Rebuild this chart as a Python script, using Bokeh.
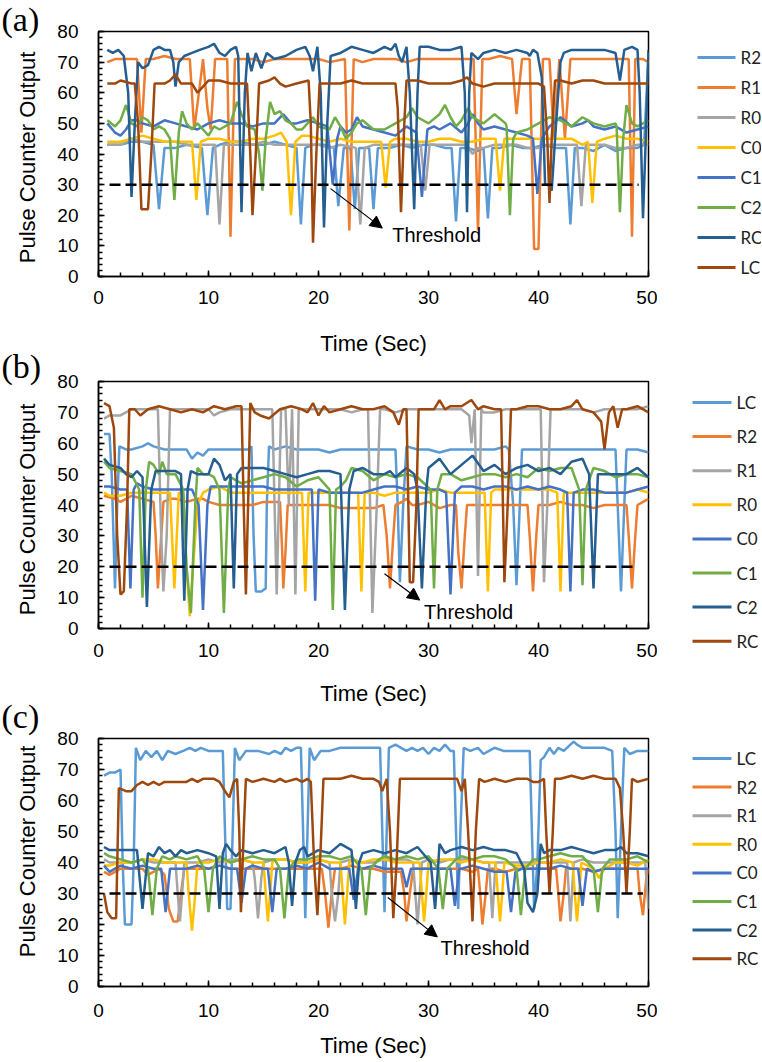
import math
from bokeh.plotting import figure
from bokeh.models import Range1d, SingleIntervalTicker, Label, Arrow, NormalHead
from bokeh.layouts import column, row
from bokeh.embed import file_html
from bokeh.resources import INLINE
from bokeh.core.properties import value

# ---------------- Panel (a) data: (time, pulse count) ----------------
a_R2 = [(0.8,43),(2,43),(3,44),(4,44),(5.0,43),(5.5,22),(6.0,42),(7,42),(8,43),(9.4,42),(9.9,20),(10.4,42),
        (11,43),(12,44),(13,44),(14,43),(15,43),(16,44),(17,43),(18.0,42),(18.4,17),(18.8,42),(19.5,43),(20.5,43),
        (21.4,42),(21.8,23),(22.3,42),(22.9,42),(23.3,22),(23.7,42),(24.6,42),(25.0,22),(25.4,42),(26.5,42),
        (27.5,43),(28.5,42),(29.5,43),(30.5,43),(31.5,42),(32.1,42),(32.5,18),(32.9,42),(33.5,42),(34.5,41),
        (35.0,42),(35.4,19),(35.8,42),(36.5,42),(37.5,43),(38.5,42),(39.5,42),(40.5,43),(41.5,42),(42.5,42),
        (42.9,17),(43.3,42),(44,42),(45,41),(46,43),(47,41),(48,42),(49,42),(49.6,43),(50,73)]
a_R1 = [(0.8,70),(1.5,71),(2.5,71),(3.5,71),(3.9,47),(4.3,71),(5,71),(6,72),(7,71),(8.3,71),(8.7,48),(9.2,62),
        (9.5,71),(9.9,55),(10.2,48),(10.6,71),(11.0,71),(11.7,71),(12.0,13),(12.4,71),(13,71),(14,71),(15,70),
        (16,71),(17,71),(18,71),(19,71),(20,71),(21,70),(22.4,71),(22.8,15),(23.2,71),(24,70),(25,71),(26,71),
        (27,71),(28,70),(29,71),(30,71),(31,71),(32,71),(33,71),(34.1,71),(34.5,15),(34.9,71),(35.5,71),(36.5,72),
        (37.6,71),(38.0,53),(38.5,71),(39.2,71),(39.6,9),(40.0,9),(40.4,71),(41.0,71),(41.4,45),(41.9,71),
        (42.4,45),(42.9,71),(43.3,71),(44,71),(45,71),(46,71),(47,71),(48.2,71),(48.5,13),(48.8,71),(49.5,71),(50,70)]
a_R0 = [(0.8,43),(2,43),(3,45),(4,44),(5,44),(6,44),(7,44),(8,43),(9,43),(10,43),(10.6,43),(11.0,17),(11.4,43),
        (12,43),(13,43),(14,43),(15,44),(16,43),(17,43),(18,43),(19,43),(20,43),(21,42),(22,43),(23.4,42),
        (23.8,17),(24.2,42),(25,43),(26,43),(27,43),(28,43),(29.3,43),(29.7,28),(30.1,43),(31,43),(32,43),
        (33,43),(33.5,43),(34,40),(34.5,42),(35,42),(36,43),(37,43),(38,43),(39,42),(40,42),(41,43),(42,43),
        (43.5,43),(43.9,23),(44.3,43),(45,43),(46,43),(47,42),(48,42),(49,43),(50,43)]
a_C0 = [(0.8,44),(2,44),(3,45),(4,46),(5,45),(6,44),(7,44),(8,44),(8.5,44),(8.9,25),(9.3,44),(10,45),(11,45),
        (12,44),(13,44),(14,45),(15,45),(16,46),(16.6,47),(17.1,44),(17.5,20),(17.9,44),(18.5,46),(19,46),
        (20,45),(21,44),(22,45),(23,44),(24,44),(25,44),(25.7,44),(26.1,29),(26.5,44),(27,45),(28,45),(29,44),
        (30,44),(31,45),(32,45),(33,44),(34,44),(35,45),(36.1,45),(36.5,28),(36.9,45),(38,45),(39,45),(40,45),
        (41,45),(42,45),(43,45),(44,43),(44.5,44),(44.9,24),(45.3,44),(46,45),(47,46),(48,45),(49,45),(50,44)]
a_C1 = [(0.8,50),(1.5,47),(2,46),(2.5,48),(3,51),(3.5,51),(4,50),(5,49),(6,51),(7,50),(8,49),(9,48),(10,50),
        (11,51),(12,50),(13,50),(14,49),(15,50),(16,50),(16.8,53),(17.5,50),(18,50),(19,51),(20,50),(20.8,49),
        (21.3,30),(21.7,45),(22,49),(22.5,47),(23,48),(23.5,52),(24,49),(25,48),(26,47),(27,46),(28,49),
        (28.9,47),(29.4,26),(29.9,48),(30.5,49),(31,48),(32,50),(33,47),(33.6,50),(34,53),(34.5,50),(35,48),
        (36,49),(37,48),(38,47),(39,46),(39.5,45),(39.9,27),(40.3,45),(41,49),(42,52),(43,49),(44,50),
        (44.5,51),(45,49),(46,48),(47,49),(48,47),(49,48),(50,49)]
a_C2 = [(0.8,51),(1.5,49),(2,51),(2.5,56),(3,50),(3.5,49),(4,52),(4.5,51),(5,48),(5.5,49),(6.0,48),(6.5,45),
        (6.9,25),(7.3,47),(7.6,54),(8,50),(8.5,48),(9,50),(9.5,48),(10,46),(10.5,49),(11,48),(12,50),(12.6,57),
        (13,53),(13.5,49),(14.2,48),(14.6,40),(14.9,28),(15.2,45),(15.6,57),(16,53),(16.5,54),(17,51),
        (17.5,50),(18,48),(18.5,48),(19,50),(19.5,52),(20,49),(21,48),(21.5,52),(22,49),(22.5,45),(23,47),
        (23.5,50),(24,51),(25,48),(26,48),(27,50),(28,52),(28.5,55),(29,52),(30,50),(31,53),(31.5,56),(32,52),
        (32.5,49),(33,51),(33.6,55),(34,52),(35,50),(36,53),(37,50),(37.1,49),(37.4,20),(37.7,45),(38,47),
        (39,48),(40,50),(41,52),(42,51),(43,49),(44,52),(45,50),(46,49),(47,50),(47.1,49),(47.4,21),(47.7,45),
        (48,56),(48.5,50),(49,49),(50,51)]
a_RC = [(0.8,74),(1.3,73),(1.8,74),(2.3,72),(2.7,60),(3.0,26),(3.3,50),(3.6,70),(4.0,68),(4.5,69),(5.0,74),
        (5.5,75),(6.0,74),(6.5,74),(6.8,70),(7.0,62),(7.3,70),(7.8,72),(8.5,73),(9.2,74),(10,75),(10.5,76),
        (11,73),(11.5,72),(12,74),(12.5,75),(12.7,72),(13.0,21),(13.3,60),(13.55,73),(13.9,67),(14.3,73),
        (14.8,68),(15.3,73),(16,71),(17,72),(18,74),(18.8,75),(19.2,72),(19.5,67),(19.9,75),(20.2,60),
        (20.5,16),(20.8,50),(21.1,72),(22,73),(23,75),(24,74),(25,73),(25.5,74),(26,75),(26.6,74),(27,76),
        (27.3,72),(27.6,70),(28,75),(28.3,60),(28.7,22),(29.0,60),(29.2,75),(30,75),(31,74),(32,74),(33.0,75),
        (33.3,60),(33.5,21),(33.7,60),(33.9,73),(34.5,71),(35,73),(36,74),(37,73),(38,74),(39,73),(39.2,72),
        (39.5,74),(39.9,73),(40.3,65),(40.6,30),(40.9,30),(41.2,28),(41.6,50),(42.0,70),(42.3,73),(43,74),
        (44,74),(45,74),(46,74),(47,73),(47.4,64),(47.8,74),(48.5,75),(49.0,74),(49.2,60),(49.5,19),(49.8,50),
        (50,74)]
a_LC = [(0.8,63),(1.5,63),(2.0,64),(3.0,63),(3.3,63),(3.6,50),(3.9,22),(4.5,22),(4.8,40),(5.1,63),(6,63),
        (6.5,64),(7,66),(7.5,63),(8.5,63),(9,60),(9.5,62),(10,64),(11,64),(12,63),(13.5,63),(13.8,40),(14.0,20),
        (14.3,40),(14.6,63),(15.5,64),(16,65),(16.5,63),(17,62),(18,63),(19.1,64),(19.3,50),(19.5,11),(19.8,40),
        (20.1,63),(21,63),(22,63),(23,64),(24,63),(25,63),(26,63),(27.0,63),(27.2,55),(27.5,21),(27.8,50),
        (28.0,64),(29,64),(30,63),(31,63),(32,63),(33,64),(33.5,65),(34,63),(35,62),(36,63),(37,63),(38,63),
        (39,63),(40.0,63),(40.5,62),(40.8,45),(41.0,24),(41.2,45),(41.5,64),(42,64),(43,63),(44,64),(45,64),
        (46,63),(47,63),(48,63),(49,63),(50,63)]

# ---------------- Panel (b) data ----------------
b_LC = [(0.5,63),(1.0,63),(1.2,50),(1.5,13),(1.7,40),(1.9,59),(2.5,58),(3,58),(4,59),(4.5,60),(5,59),(6,58),
        (7,58),(8,58),(8.5,55),(9,57),(9.5,56),(10,58),(11,58),(12,58),(13,58),(13.6,58),(13.9,59),(14.1,30),
        (14.3,12),(14.8,12),(15.2,13),(15.3,40),(15.5,59),(16,58),(17,59),(18,58),(19,58),(20,58),(21,57),
        (22,58),(23,58),(24,58),(25,58),(26,58),(27.0,58),(27.2,40),(27.4,15),(27.7,40),(28.0,59),(29,58),
        (30,58),(31,57),(32,58),(33,58),(34,58),(35,58),(36,58),(37.0,59),(37.3,58),(37.7,40),(38.0,14),
        (38.3,40),(38.5,58),(39,58),(40,58),(41,58),(42,58),(43,58),(44,58),(45,58),(46,58),(47.0,58),
        (47.2,40),(47.5,12),(47.8,40),(48.0,58),(49,58),(50,57)]
b_R2 = [(0.5,43),(1.5,42),(2,41),(2.5,42),(3,43),(4,42),(5.0,41),(5.2,30),(5.4,13),(5.7,30),(5.9,41),(6.5,42),
        (7,42),(8,41),(9,42),(9.5,42),(10,41),(11,40),(12,40),(13,40),(14,40),(15,41),(16,41),(16.5,41),
        (16.7,25),(16.8,13),(17.0,25),(17.2,40),(18,40),(19,40),(20,40),(21,40),(22,39),(23,39),(24,39),
        (25,39),(25.9,40),(26.2,30),(26.5,13),(26.8,30),(27.0,40),(27.6,41),(28,42),(28.5,40),(29,40),(30,41),
        (31,39),(32,40),(32.5,40),(32.7,25),(33.0,13),(33.3,30),(33.5,40),(34,40),(35,40),(36,40),(37,40),
        (38,40),(39.0,40),(39.2,30),(39.5,12),(39.8,30),(40.0,40),(41,40),(42,41),(43,40),(44,40),(45,39),
        (46,40),(47,40),(48.0,40),(48.2,30),(48.5,13),(48.8,30),(49.0,40),(49.5,41),(50,42)]
b_R1 = [(0.5,68),(1,69),(2,69),(3,71),(4,71),(5,71),(5.4,71),(5.7,30),(5.9,12),(6.2,30),(6.5,71),(7,71),(8,71),
        (9,71),(10,71),(10.5,69),(11,70),(12,71),(13,71),(14,71),(15,71),(15.8,71),(16.2,11),(16.6,71),
        (17.0,71),(17.3,40),(17.6,71),(17.9,11),(18.2,71),(19,71),(20,71),(21,71),(22,71),(23,70),(24,71),
        (24.5,71),(24.9,5),(25.3,40),(25.6,71),(26,71),(27,70),(28,71),(29,71),(30,71),(31,71),(32,71),(33,71),
        (33.7,69),(33.9,60),(34.2,71),(34.5,17),(34.8,71),(35,70),(36,70),(37,71),(38,71),(39,71),(40.2,71),
        (40.5,15),(40.8,40),(41.1,71),(42,71),(43,71),(44,71),(45,70),(46,71),(47,71),(48,71),(49,71),(50,72)]
b_R0 = [(0.5,44),(1,43),(2,43),(3,44),(4,44),(5,44),(6,44),(6.5,44),(6.9,13),(7.3,44),(7.7,44),(8.0,20),
        (8.3,4),(8.6,20),(9.0,40),(9.5,44),(10,45),(11,46),(12,44),(13,44),(14,44),(15,44),(16,44),(17,44),
        (18,44),(18.5,44),(18.8,12),(19.1,44),(20,44),(21,44),(22,44),(23,44),(23.6,44),(23.9,12),(24.2,44),
        (25,44),(26,43),(27,44),(28,44),(29,44),(30,44),(31,45),(32,44),(33,44),(34,44),(35.1,44),(35.4,12),
        (35.7,44),(36,45),(37,45),(38,45),(39,45),(40,45),(41,45),(41.7,44),(42.0,12),(42.3,44),(43,44),
        (44,44),(45,44),(46,44),(47,44),(48,44),(49,45),(50,44)]
b_C0 = [(0.5,46),(1,46),(2,45),(2.6,45),(2.9,13),(3.2,45),(3.5,47),(4,46),(5,45),(6,45),(7,45),(8,45),(8.5,45),
        (9.1,40),(9.5,6),(9.9,40),(10.2,46),(11,46),(12,46),(13,46),(14,46),(15,46),(16,45),(17,45),(18,45),
        (19,45),(19.4,45),(19.7,9),(20.0,45),(21,44),(22,44),(23,44),(24,44),(25,45),(26,46),(27,46),(28,45),
        (29,46),(30,45),(31,45),(31.6,44),(32.0,11),(32.4,44),(33,46),(34,46),(35,45),(36,46),(37,46),(38,45),
        (39,46),(40,45),(41,46),(42,45),(42.6,44),(42.9,12),(43.2,44),(44,45),(45,45),(46,44),(47,44),(48,44),
        (49,45),(50,46)]
b_C1 = [(0.5,54),(1,52),(2,51),(3,50),(3.7,45),(4.0,10),(4.3,45),(4.6,54),(5,53),(5.5,50),(5.8,54),(6.2,50),
        (7,50),(7.7,45),(8.0,20),(8.4,5),(8.8,40),(9,52),(9.5,50),(10,50),(10.5,49),(11.0,45),(11.4,5),
        (11.8,45),(12,49),(12.5,48),(13,47),(14,48),(15,49),(16,50),(17,49),(18,46),(19,48),(20,49),(21.0,45),
        (21.3,6),(21.6,45),(22,46),(22.5,48),(23,52),(24,51),(25,48),(26,50),(27,49),(28,50),(29,49),(30.2,45),
        (30.5,13),(30.8,45),(31.2,50),(32,50),(33,48),(34,49),(35,50),(36,50),(37,49),(38,50),(39,49),(40,52),
        (41,51),(42,52),(43,52),(43.7,45),(44.0,14),(44.3,45),(45,52),(46,51),(47,49),(48,50),(49,50),(50,49)]
b_C2 = [(0.5,55),(1,53),(2,52),(2.5,50),(3,49),(3.5,51),(4.0,49),(4.4,7),(4.8,45),(5.2,51),(6,51),(7,51),
        (7.5,50),(7.8,9),(8.1,45),(8.4,51),(9,50),(10,50),(10.5,55),(11,53),(11.5,48),(12.0,50),(12.3,13),
        (12.6,50),(13,52),(14,52),(15,52),(16,51),(17,50),(18,49),(19,50),(20,51),(21,51),(22.0,50),(22.4,6),
        (22.8,45),(23.2,51),(24,52),(25,50),(26,50),(26.5,51),(27,49),(28,52),(28.7,50),(29.0,45),(29.4,13),
        (29.8,45),(30,52),(31,55),(32,50),(33,53),(34,56),(35,51),(36,53),(37,50),(38,52),(39,53),(40,51),
        (41,52),(42,50),(43,54),(44,55),(44.6,50),(45.0,13),(45.4,50),(46,50),(47,50),(48,50),(49,52),(50,49)]
b_RC = [(0.5,73),(1.0,72),(1.4,65),(1.7,30),(2.0,11),(2.3,12),(2.6,40),(2.8,71),(3.3,71),(3.8,69),(4.5,71),
        (5.5,72),(6.5,71),(7.5,70),(8.5,71),(9.5,70),(10.5,72),(11.5,71),(12.5,72),(13.0,72),(13.2,40),
        (13.4,11),(13.6,40),(13.8,73),(14.2,70),(14.7,69),(15.5,68),(16.5,71),(17.5,72),(18.5,71),(19,70),
        (19.5,73),(20,69),(20.5,72),(21,70),(22,71),(23,72),(24,71),(25,71),(26,72),(26.8,70),(27.3,66),
        (27.7,71),(28.0,71),(28.3,15),(28.6,15),(28.9,40),(29.1,71),(30,71),(30.5,71),(31,74),(31.5,71),
        (32,72),(33,72),(33.9,74),(34.5,71),(35,72),(36,71),(36.6,71),(36.9,15),(37.2,40),(37.5,71),(38,71),
        (39,72),(40,72),(41,71),(42,71),(43,72),(43.5,74),(44,71),(45,70),(45.7,67),(46.0,58),(46.4,70),
        (46.8,72),(47.2,65),(47.6,71),(48,71),(49,72),(50,70)]

# ---------------- Panel (c) data ----------------
c_LC = [(0.5,68),(1,69),(1.5,69),(2.0,70),(2.2,40),(2.4,20),(3.0,20),(3.2,40),(3.4,77),(3.8,73),(4.3,76),
        (4.8,74),(5.3,76),(5.8,73),(6.3,76),(7,75),(7.7,76),(8.3,77),(8.8,76),(9.3,77),(10,76),(11.3,76),
        (11.5,50),(11.7,25),(12.0,25),(12.2,50),(12.4,77),(12.8,73),(13.4,76),(14.5,76),(15.5,75),(16,76),
        (16.6,75),(17,77),(17.5,76),(18.0,77),(18.4,77),(18.6,50),(18.8,22),(19.0,50),(19.2,77),(19.6,73),
        (20.2,76),(21,76),(22,77),(23,77),(24,77),(25,77),(25.6,77),(25.8,50),(26.0,24),(26.2,50),(26.4,77),
        (27,78),(27.5,77),(28,76),(28.5,77),(29,76),(29.5,77),(30,75),(30.5,77),(31,76),(31.5,78),(32.0,76),
        (32.3,76),(32.5,50),(32.7,25),(32.9,50),(33.2,77),(33.8,76),(34.5,77),(35,75),(35.5,76),(36,77),
        (36.8,76),(37.5,76),(38.5,76),(39.2,76),(39.4,50),(39.6,25),(39.9,40),(40.2,73),(40.5,74),(41,77),
        (41.4,75),(41.8,77),(42.3,76),(42.9,78),(43.2,79),(43.5,78),(44,77),(45,77),(46,77),(46.7,76),
        (47.0,50),(47.2,22),(47.5,50),(47.8,77),(48.3,75),(49,76),(50,76)]
c_R2 = [(0.5,37),(1,36),(1.5,37),(2,38),(3,38),(3.5,38),(4,38),(4.5,36),(5,37),(5.5,38),(6.0,36),(6.4,25),
        (6.8,21),(7.2,21),(7.5,30),(7.8,38),(8.5,38),(9,38),(10,38),(11,39),(12,38),(13,38),(14,38),(15,38),
        (16,38),(17,38),(18,38),(19,38),(20,38),(20.3,38),(20.6,30),(20.9,19),(21.2,30),(21.5,38),(22,38),
        (23,39),(24,38),(25,38),(26,37),(27,37),(27.5,37),(27.8,30),(28.0,21),(28.3,30),(28.6,38),(29,38),
        (30,38),(31,38),(32,38),(33,38),(34,37),(34.5,38),(34.7,30),(34.9,20),(35.2,30),(35.4,38),(36,38),
        (37,37),(38,38),(39,38),(40,38),(41,38),(41.6,38),(41.8,30),(42.0,21),(42.3,30),(42.5,38),(43,38),
        (44,38),(45,37),(46,38),(47,38),(48,38),(49,38),(49.2,30),(49.5,23),(49.8,35),(50,38)]
c_R1 = [(0.5,41),(1,40),(2,40),(3,40),(4,41),(5,40),(6,40),(7.0,40),(7.2,30),(7.4,21),(7.6,30),(7.8,40),(8,40),
        (9,40),(10,41),(11,40),(12,41),(13,41),(14,40),(14.2,35),(14.5,22),(14.8,35),(15,40),(16,41),(17,41),
        (18,40),(19,40),(20,41),(21.0,40),(21.2,30),(21.5,21),(21.8,30),(22.0,40),(23,41),(24,40),(25,40),
        (26,41),(27,41),(28,41),(28.6,40),(28.8,30),(29.0,20),(29.2,30),(29.4,40),(30,41),(31,40),(32,41),
        (33,41),(34,41),(35,40),(35.5,40),(35.8,22),(36.1,40),(37,40),(38,40),(39,40),(40,40),(41,40),(42,40),
        (42.6,40),(42.9,21),(43.2,40),(44,41),(45,40),(46,40),(47,40),(48,40),(49,40),(49.7,40),(50,25)]
c_R0 = [(0.5,39),(1,39),(2,40),(3,40),(4,41),(5,41),(6,40),(7,40),(8.0,40),(8.2,30),(8.5,18),(8.8,30),(9.0,40),
        (10,40),(11,41),(12,40),(13,41),(14,40),(15.0,40),(15.2,30),(15.4,21),(15.6,30),(15.8,40),(16,41),
        (17,41),(18,40),(19,40),(20,41),(21,40),(22.0,40),(22.2,30),(22.4,20),(22.6,30),(22.8,40),(23,41),
        (24,40),(25,41),(26,41),(27,40),(28,40),(29.2,40),(29.4,30),(29.6,21),(29.8,30),(30.0,40),(31,41),
        (32,41),(33,40),(34,41),(35,40),(36.1,40),(36.3,30),(36.5,21),(36.7,30),(36.9,40),(38,39),(39,39),
        (40,40),(41,40),(42,41),(43.1,40),(43.3,30),(43.5,21),(43.7,30),(43.9,40),(45,38),(45.5,35),(46,38),
        (47,40),(48,40),(49,39),(50,41)]
c_C0 = [(0.5,39),(1,37),(1.5,38),(2,39),(3,38),(4,39),(5,38),(5.7,38),(6.1,24),(6.5,38),(7,38),(8,38),(9,39),
        (10,38),(11,39),(12,38),(12.6,38),(13.0,27),(13.4,38),(14,39),(15,38),(15.4,38),(15.8,24),(16.2,38),
        (17,38),(18,39),(19,38),(20,40),(21,38),(22,38),(22.8,38),(23.2,28),(23.6,38),(24,38),(25,39),(26,38),
        (27,38),(27.6,38),(28,32),(28.4,38),(29,38),(30,38),(31,38),(32.0,38),(32.4,26),(32.8,38),(33,38),
        (34,39),(35,38),(36,37),(37.1,37),(37.5,24),(37.9,37),(38.5,38),(39,38),(40,38),(41,38),(42,39),
        (43,38),(43.6,38),(44.0,26),(44.4,38),(45,37),(46,38),(47,38),(48,38),(49,38),(50,38)]
c_C1 = [(0.5,43),(1,42),(2,41),(3,40),(4,41),(4.5,38),(4.9,23),(5.3,38),(5.8,42),(6.5,41),(7,42),(8,41),
        (9,42),(9.6,38),(10.0,24),(10.4,38),(11,42),(12,40),(13,41),(14,42),(15,41),(16,41),(16.5,38),
        (16.9,22),(17.3,38),(18,41),(19,41),(20,42),(21,42),(22,41),(23,42),(23.9,38),(24.3,23),(24.7,38),
        (25.5,41),(26,42),(27,41),(28,42),(29,41),(30,42),(30.9,38),(31.3,25),(31.7,38),(32.5,41),(33,42),
        (34,41),(35,42),(36,42),(37,41),(38.0,38),(38.4,23),(38.8,38),(39.5,41),(40,41),(41,42),(42,43),
        (43,42),(44,42),(45.0,38),(45.4,24),(45.8,38),(46.5,41),(47,41),(48,41),(49,42),(50,40)]
c_C2 = [(0.5,45),(1,44),(2,44),(3,44),(3.5,44),(4.0,25),(4.5,43),(5,42),(5.5,45),(6,43),(6.5,44),(7,42),
        (7.5,44),(8,43),(9,44),(10,43),(10.7,42),(11.0,25),(11.3,43),(11.6,46),(12,44),(12.5,42),(13,44),
        (14,43),(15,44),(16,43),(17,45),(17.3,40),(17.6,26),(17.9,40),(18.3,44),(18.7,45),(19,42),(20,44),
        (21,43),(22,46),(23,44),(23.1,40),(23.4,25),(23.7,40),(24,43),(25,44),(26,43),(27,44),(28,43),(29,45),
        (30.2,40),(30.6,25),(30.9,40),(31,46),(31.5,43),(32,44),(33,45),(34,44),(35,45),(36,44),(37,44),
        (38,43),(38.7,38),(39.0,27),(39.5,24),(39.9,30),(40.2,46),(40.5,43),(41,44),(42,44),(43,45),(44,44),
        (45,43),(46,44),(47,44),(47.5,45),(48,43),(49,43),(50,42)]
c_RC = [(0.5,30),(0.8,24),(1.2,22),(1.6,22),(1.85,64),(2.5,63),(3.0,63),(3.5,65),(4.0,66),(4.5,65),(5.0,66),
        (5.5,65),(6.0,66),(7,66),(8,66),(8.5,67),(9,66),(9.5,67),(10.5,67),(11.0,66),(11.5,63),(11.9,61),
        (12.3,66),(12.6,67),(12.8,50),(12.95,24),(13.2,50),(13.4,67),(14,66),(15,67),(16,66),(16.5,67),
        (17,66),(18,67),(18.5,66),(19.0,67),(19.3,66),(19.6,40),(19.9,23),(20.2,45),(20.45,67),(21,67),
        (22,67),(23,68),(24,67),(25,67),(25.5,66),(25.8,63),(26.2,67),(26.5,50),(26.8,22),(27.1,40),(27.4,67),
        (28,67),(29,67),(30,67),(31,67),(32,67),(32.6,67),(33.0,63),(33.3,67),(33.6,50),(34.0,21),(34.3,50),
        (34.6,67),(35.1,66),(36,67),(37,66),(38,67),(39,67),(39.5,66),(40.0,66),(40.5,67),(40.7,50),(41.0,30),
        (41.3,50),(41.5,67),(42,67),(43,68),(44,67),(45,68),(46,67),(47,67),(47.4,64),(47.7,50),(48.0,30),
        (48.3,50),(48.5,67),(49,66),(50,67)]

# thresholds
thr_a, thr_b, thr_c = 30, 20, 30
thr_t_a = [1.0, 49.1]
thr_t_b = [1.0, 48.9]
thr_t_c = [1.0, 49.5]

names_a = ["R2", "R1", "R0", "C0", "C1", "C2", "RC", "LC"]
names_bc = ["LC", "R2", "R1", "R0", "C0", "C1", "C2", "RC"]
series_a = [a_R2, a_R1, a_R0, a_C0, a_C1, a_C2, a_RC, a_LC]
series_b = [b_LC, b_R2, b_R1, b_R0, b_C0, b_C1, b_C2, b_RC]
series_c = [c_LC, c_R2, c_R1, c_R0, c_C0, c_C1, c_C2, c_RC]
tags = ["(a)", "(b)", "(c)"]
y_title = "Pulse Counter Output"
x_title = "Time (Sec)"

colors = ["#5B9BD5", "#ED7D31", "#A5A5A5", "#FFC000", "#4472C4", "#70AD47", "#255E91", "#9E480E"]

SANS = "Liberation Sans"

# ---------------- layout geometry (pixels) ----------------
SIDE_W = 54
MAIN_W = 603
LEG_W = 104
PANEL_H = [358, 350, 353]
TOTAL_H = sum(PANEL_H)


def blank(width, height):
    f = figure(width=width, height=height, output_backend="svg", toolbar_location=None,
               x_range=Range1d(0, width), y_range=Range1d(0, height),
               x_axis_location=None, y_axis_location=None,
               min_border_left=0, min_border_right=0, min_border_top=0, min_border_bottom=0)
    f.xgrid.visible = False
    f.ygrid.visible = False
    f.outline_line_color = None
    f.background_fill_color = "white"
    f.border_fill_color = "white"
    return f


def make_main(H, bl, br, bt, bb, names, series, thr, thr_t, arrow, txt, tick_stand, title_stand):
    p = figure(width=MAIN_W, height=H, output_backend="svg", toolbar_location=None,
               x_range=Range1d(0, 50), y_range=Range1d(0, 80),
               min_border_left=bl, min_border_right=br, min_border_top=bt, min_border_bottom=bb)
    p.xgrid.visible = False
    p.ygrid.visible = False
    p.outline_line_color = "black"
    p.outline_line_width = 1.5
    p.background_fill_color = "white"
    p.border_fill_color = "white"

    p.xaxis.ticker = SingleIntervalTicker(interval=10, num_minor_ticks=5)
    p.yaxis.ticker = SingleIntervalTicker(interval=10, num_minor_ticks=5)
    for ax in (p.xaxis[0], p.yaxis[0]):
        ax.axis_line_color = "black"
        ax.axis_line_width = 1.5
        ax.major_tick_in = 6
        ax.major_tick_out = 0
        ax.minor_tick_in = 4
        ax.minor_tick_out = 0
        ax.major_tick_line_width = 1.5
        ax.minor_tick_line_width = 1.5
        ax.major_tick_line_color = "black"
        ax.minor_tick_line_color = "black"
        ax.major_label_text_font = SANS
        ax.major_label_text_font_size = "19px"
        ax.major_label_text_color = "black"
        ax.axis_label_text_font = SANS
        ax.axis_label_text_font_size = "22px"
        ax.axis_label_text_font_style = "normal"
        ax.axis_label_text_color = "black"
    p.xaxis.axis_label = x_title
    p.xaxis.major_label_standoff = tick_stand
    p.xaxis.axis_label_standoff = title_stand
    p.yaxis.major_label_standoff = 20

    for data, col in zip(series, colors):
        t = [d[0] for d in data]
        v = [d[1] for d in data]
        p.line(t, v, line_color=col, line_width=2.5)

    p.line(thr_t, [thr, thr], line_color="black", line_width=2.5, line_dash="11 5")

    p.add_layout(Arrow(end=NormalHead(size=12, fill_color="black", line_color="black"),
                       x_start=arrow[0], y_start=arrow[1], x_end=arrow[2], y_end=arrow[3],
                       line_color="black", line_width=1.2))
    p.add_layout(Label(x=txt[0], y=txt[1], text="Threshold", text_font=SANS,
                       text_font_size="20px", text_baseline="middle", text_align="left",
                       text_color="black"))
    return p


pa = make_main(PANEL_H[0], 41, 9, 31, 79, names_a, series_a, thr_a, thr_t_a,
               (21.1, 28.7, 25.8, 15.8), (26.7, 13.5), 14, 24)
pb = make_main(PANEL_H[1], 40, 9, 23, 74, names_bc, series_b, thr_b, thr_t_b,
               (26.0, 17.7, 29.2, 9.2), (29.6, 5.4), 15, 21)
pc = make_main(PANEL_H[2], 44, 4, 30, 75, names_bc, series_c, thr_c, thr_t_c,
               (26.3, 28.7, 30.8, 16.0), (31.1, 12.3), 17, 13)

# side strip: panel tags and rotated y-axis titles (page pixel positions)
side = blank(SIDE_W, TOTAL_H)
tag_y = [19, 366, 716]
ylab_y = [157, 509, 851]
side.text(x=[1, 1, 1], y=[TOTAL_H - v for v in tag_y], text=tags,
          text_font=value("Liberation Serif"), text_font_size="34px",
          text_baseline="middle", text_align="left", text_color="black")
side.text(x=[27, 27, 27], y=[TOTAL_H - v for v in ylab_y], text=[y_title] * 3,
          angle=math.pi / 2, text_font=value(SANS), text_font_size="22px",
          text_baseline="middle", text_align="center", text_color="black")

# legend strip
leg = blank(LEG_W, TOTAL_H)
legend_specs = [  # (names, first y, step, line x0, line x1, text x)
    (names_a, 57.0, 30.0, 40, 78, 83),
    (names_bc, 402.0, 34.1, 35, 74, 79),
    (names_bc, 758.0, 28.6, 35, 74, 79),
]
for names, y0, dy, x0, x1, xt in legend_specs:
    ys = [TOTAL_H - (y0 + i * dy) for i in range(len(names))]
    leg.segment(x0=[x0] * len(names), x1=[x1] * len(names), y0=ys, y1=ys,
                line_color=colors, line_width=3)
    leg.text(x=[xt] * len(names), y=ys, text=names, text_font=value("Lato"),
             text_font_size="17px", text_baseline="middle", text_align="left",
             text_color="#222222")

layout = row(side, column(pa, pb, pc, spacing=0), leg, spacing=0)
open("out.html", "w").write(file_html(layout, INLINE))
